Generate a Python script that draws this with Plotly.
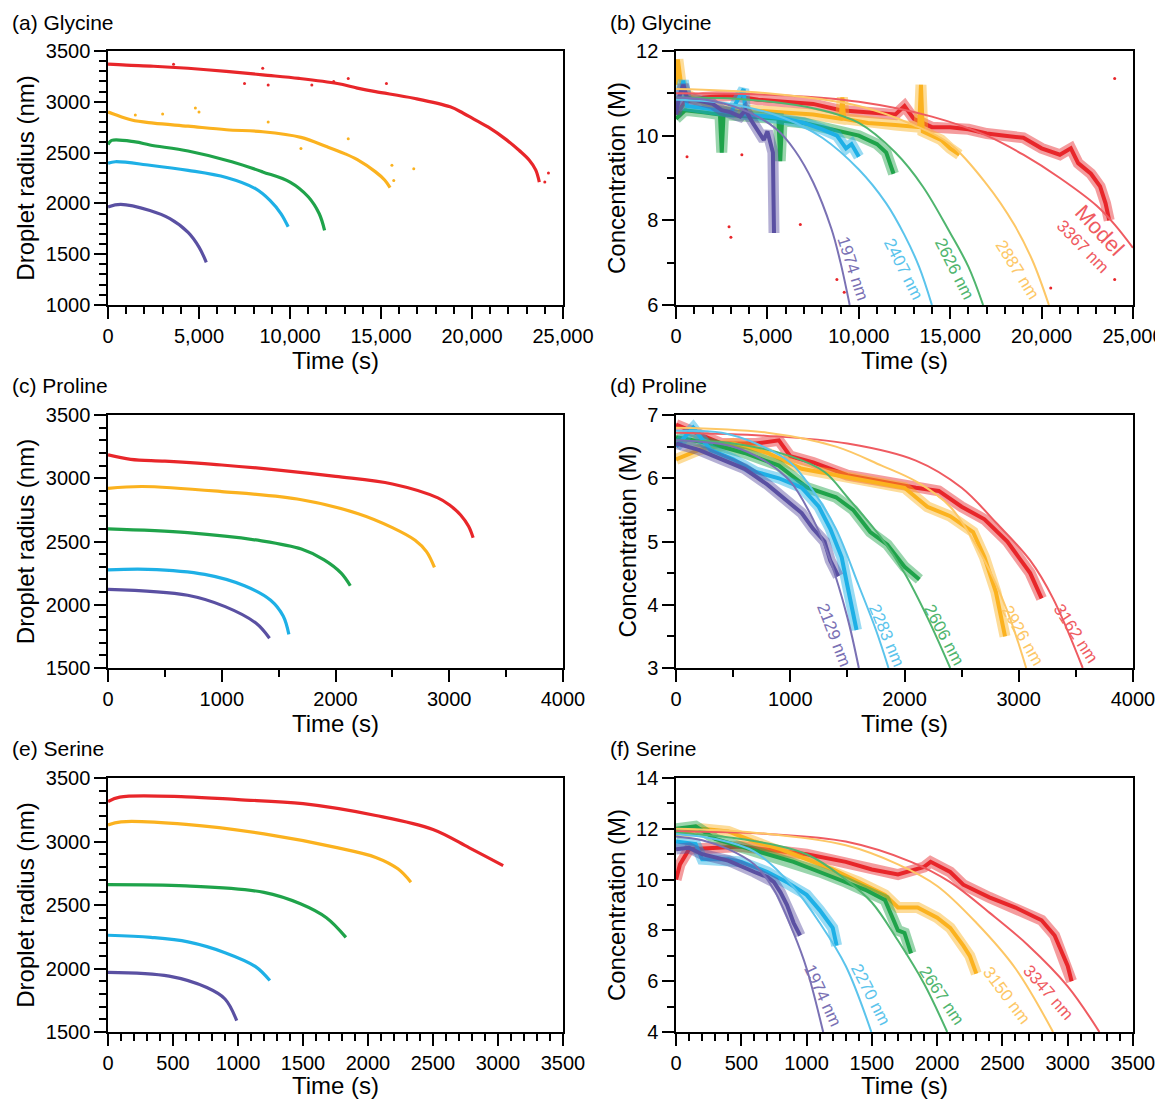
import plotly.graph_objects as go
from plotly.subplots import make_subplots

FONT = "Liberation Sans, Arial, sans-serif"

# data colours and the lighter model-line colours
RED, ORANGE, GREEN, CYAN, PURPLE = "#e8262a", "#fbb21f", "#1fa34a", "#1eb0e6", "#5a50a2"
RED_M, ORANGE_M, GREEN_M, CYAN_M, PURPLE_M = "#ef5b61", "#fdc766", "#4fb56e", "#5bc4ec", "#7a71b4"

# ---------------- (a) Glycine: droplet radius (nm) vs time (s)
gly_rad_red = [(0, 3370), (1000, 3360), (2500, 3350), (4400, 3330), (6500, 3300), (8500, 3265),
               (10500, 3230), (12600, 3180), (13700, 3135), (14700, 3100), (16800, 3035),
               (18800, 2950), (19500, 2890), (20100, 2830), (20900, 2750), (21900, 2625),
               (22600, 2520), (23150, 2425), (23500, 2330), (23700, 2210)]
gly_rad_orange = [(0, 2900), (300, 2880), (1300, 2820), (2500, 2790), (4400, 2760), (6500, 2725),
                  (8500, 2705), (10600, 2650), (12000, 2560), (13000, 2490), (13700, 2430),
                  (14700, 2310), (15200, 2230), (15500, 2155)]
gly_rad_green = [(0, 2580), (200, 2620), (1500, 2605), (2300, 2575), (4400, 2515), (6800, 2410),
                 (8500, 2310), (10000, 2210), (11000, 2065), (11600, 1900), (11900, 1735)]
gly_rad_cyan = [(0, 2395), (400, 2410), (2300, 2375), (4400, 2325), (6500, 2255), (8100, 2145),
                (8900, 2030), (9500, 1900), (9900, 1770)]
gly_rad_purple = [(0, 1965), (700, 1990), (2300, 1930), (3400, 1850), (4400, 1715), (5000, 1570),
                  (5400, 1420)]
gly_rad_red_stray = [(7500, 3180), (8800, 3165), (11200, 3165), (15300, 3180), (13200, 3230),
                     (8500, 3330), (24200, 2300), (24000, 2210), (3600, 3370), (12400, 3200)]
gly_rad_orange_stray = [(4800, 2940), (5000, 2900), (8800, 2800), (13200, 2635), (15600, 2375),
                        (16800, 2340), (15700, 2225), (10600, 2540), (3000, 2880), (1500, 2870)]

# ---------------- (b) Glycine: concentration (M) vs time (s)
gly_con_red = [(0, 10.5), (500, 10.8), (1500, 10.9), (3000, 10.95), (4500, 10.85), (6000, 10.8),
               (7500, 10.75), (9000, 10.6), (10500, 10.55), (12000, 10.5), (12500, 10.7),
               (13000, 10.4), (14000, 10.2), (15000, 10.2), (16000, 10.15), (17000, 10.05),
               (18000, 10.0), (19000, 9.95), (20000, 9.7), (21000, 9.55), (21600, 9.7),
               (22000, 9.35), (22700, 9.1), (23200, 8.8), (23500, 8.4), (23700, 8.0)]
gly_con_orange = [(0, 11.2), (100, 11.8), (250, 11.3), (500, 11.0), (1500, 10.75), (2500, 10.65),
                  (4000, 10.6), (6000, 10.55), (7500, 10.5), (9000, 10.4), (9100, 10.9),
                  (9200, 10.4), (10500, 10.3), (12000, 10.25), (13300, 10.2), (13400, 11.2),
                  (13500, 10.1), (14500, 9.9), (15000, 9.7), (15500, 9.55)]
gly_con_green = [(0, 10.4), (500, 10.6), (1500, 10.55), (2400, 10.5), (2500, 9.6), (2600, 10.5),
                 (4000, 10.45), (5600, 10.4), (5700, 9.4), (5800, 10.35), (7000, 10.3),
                 (8500, 10.15), (10000, 10.0), (11000, 9.8), (11500, 9.6), (11900, 9.1)]
gly_con_cyan = [(0, 10.6), (200, 10.9), (400, 11.3), (600, 10.7), (1500, 10.65), (3000, 10.55),
                (3700, 11.1), (3800, 10.5), (5000, 10.45), (6000, 10.4), (7000, 10.3),
                (8000, 10.15), (8800, 10.0), (9300, 9.7), (9600, 9.8), (10000, 9.5)]
gly_con_purple = [(0, 10.5), (150, 10.9), (400, 11.2), (600, 10.9), (1000, 10.85), (1500, 10.8),
                  (2000, 10.75), (2500, 10.6), (3000, 10.55), (3500, 10.45), (3800, 10.6),
                  (4200, 10.3), (4500, 10.1), (4800, 9.9), (5000, 10.1), (5200, 9.8),
                  (5300, 9.6), (5330, 8.6), (5360, 7.7)]
gly_mod_red = [(0, 11.0), (6000, 10.95), (10000, 10.8), (14000, 10.45), (17000, 10.0),
               (19000, 9.55), (21000, 9.0), (23000, 8.35), (24000, 7.9), (25000, 7.35)]
gly_mod_orange = [(0, 11.1), (5000, 11.0), (10000, 10.7), (13000, 10.25), (15000, 9.8),
                  (17000, 8.85), (18500, 7.9), (19500, 7.05), (20400, 6.0)]
gly_mod_green = [(0, 10.9), (4000, 10.85), (8000, 10.6), (10000, 10.3), (12000, 9.6),
                 (13500, 8.8), (15000, 7.7), (16000, 6.9), (16800, 6.0)]
gly_mod_cyan = [(0, 10.85), (3000, 10.75), (6000, 10.4), (8000, 9.95), (10000, 9.2),
                (11500, 8.4), (12500, 7.65), (13300, 6.9), (14000, 6.0)]
gly_mod_purple = [(0, 10.9), (2000, 10.82), (4000, 10.55), (5500, 10.15), (6500, 9.65),
                  (7500, 8.9), (8500, 7.8), (9000, 7.0), (9500, 6.0)]
gly_con_stray = [(2900, 7.85), (3000, 7.6), (600, 9.5), (3600, 9.55), (8800, 6.6), (9200, 6.3),
                 (24000, 6.6), (20500, 6.4), (24000, 11.35), (6800, 7.9)]
gly_labels = [("1974 nm", 9650, 6.85, 72, PURPLE_M), ("2407 nm", 12400, 6.85, 63, CYAN_M),
              ("2626 nm", 15200, 6.85, 63, GREEN_M), ("2887 nm", 18650, 6.83, 58, ORANGE_M),
              ("3367 nm", 22250, 7.39, 46, RED_M)]

# ---------------- (c) Proline: droplet radius
pro_rad_red = [(0, 3185), (200, 3150), (500, 3135), (1000, 3105), (1500, 3065), (2000, 3015),
               (2500, 2955), (2900, 2845), (3000, 2790), (3100, 2710), (3170, 2620), (3210, 2530)]
pro_rad_orange = [(0, 2920), (300, 2935), (1000, 2895), (1700, 2830), (2200, 2720), (2500, 2610),
                  (2700, 2510), (2800, 2420), (2870, 2295)]
pro_rad_green = [(0, 2600), (700, 2570), (1350, 2505), (1700, 2440), (1900, 2355), (2050, 2250),
                 (2130, 2150)]
pro_rad_cyan = [(0, 2275), (350, 2280), (850, 2240), (1200, 2150), (1430, 2035), (1540, 1910),
                (1590, 1765)]
pro_rad_purple = [(0, 2122), (700, 2075), (1030, 1985), (1300, 1855), (1420, 1735)]

# ---------------- (d) Proline: concentration
pro_con_red = [(0, 6.85), (200, 6.7), (400, 6.55), (700, 6.55), (900, 6.6), (1000, 6.35),
               (1200, 6.25), (1500, 6.05), (1800, 5.95), (2100, 5.85), (2300, 5.8), (2500, 5.55),
               (2700, 5.35), (2900, 5.0), (3000, 4.75), (3100, 4.5), (3200, 4.1)]
pro_con_orange = [(0, 6.3), (200, 6.45), (500, 6.55), (800, 6.4), (1100, 6.15), (1400, 6.05),
                  (1700, 5.95), (2000, 5.85), (2200, 5.55), (2400, 5.4), (2600, 5.15),
                  (2700, 4.75), (2800, 4.2), (2880, 3.5)]
pro_con_green = [(0, 6.65), (300, 6.55), (600, 6.4), (900, 6.2), (1150, 5.85), (1400, 5.7),
                 (1550, 5.5), (1700, 5.15), (1850, 4.95), (2000, 4.6), (2130, 4.4)]
pro_con_cyan = [(0, 6.5), (150, 6.8), (300, 6.45), (500, 6.3), (700, 6.1), (900, 6.0),
                (1100, 5.85), (1250, 5.55), (1350, 5.2), (1450, 4.75), (1500, 4.3), (1580, 3.6)]
pro_con_purple = [(0, 6.55), (200, 6.45), (400, 6.3), (600, 6.15), (800, 5.9), (1000, 5.6),
                  (1100, 5.45), (1200, 5.2), (1300, 5.0), (1350, 4.7), (1420, 4.45)]
pro_mod_red = [(0, 6.72), (800, 6.67), (1500, 6.55), (2100, 6.28), (2500, 5.85), (2800, 5.3),
               (3100, 4.7), (3300, 4.1), (3560, 3.0)]
pro_mod_orange = [(0, 6.8), (800, 6.72), (1400, 6.5), (1800, 6.2), (2100, 5.95), (2400, 5.55),
                  (2700, 4.7), (2900, 3.9), (3065, 3.0)]
pro_mod_green = [(0, 6.6), (500, 6.55), (1000, 6.35), (1300, 6.1), (1500, 5.7), (1800, 5.05),
                 (2000, 4.5), (2200, 3.8), (2400, 3.0)]
pro_mod_cyan = [(0, 6.75), (400, 6.72), (700, 6.55), (1000, 6.25), (1200, 5.8), (1400, 5.2),
                (1600, 4.3), (1750, 3.6), (1860, 3.0)]
pro_mod_purple = [(0, 6.6), (500, 6.5), (800, 6.25), (1000, 5.95), (1200, 5.35), (1350, 4.7),
                  (1500, 3.8), (1600, 3.0)]
pro_labels = [("2129 nm", 1385, 3.52, 69, PURPLE_M), ("2283 nm", 1845, 3.52, 67, CYAN_M),
              ("2606 nm", 2350, 3.52, 62, GREEN_M), ("2926 nm", 3035, 3.52, 60, ORANGE_M),
              ("3162 nm", 3500, 3.55, 57, RED_M)]

# ---------------- (e) Serine: droplet radius
ser_rad_red = [(0, 3315), (90, 3350), (600, 3352), (1000, 3330), (1500, 3298), (2060, 3205),
               (2500, 3095), (2780, 2950), (3040, 2810)]
ser_rad_orange = [(0, 3130), (100, 3155), (600, 3135), (1200, 3060), (1770, 2950), (2060, 2875),
                  (2230, 2785), (2330, 2680)]
ser_rad_green = [(0, 2660), (600, 2650), (1200, 2600), (1480, 2510), (1680, 2400), (1830, 2245)]
ser_rad_cyan = [(0, 2262), (330, 2245), (615, 2210), (900, 2125), (1135, 2015), (1245, 1905)]
ser_rad_purple = [(0, 1970), (470, 1940), (760, 1850), (900, 1760), (990, 1590)]

# ---------------- (f) Serine: concentration
ser_con_red = [(0, 10.0), (30, 10.6), (100, 11.2), (500, 11.3), (1000, 11.0), (1300, 10.7),
               (1500, 10.4), (1700, 10.2), (1900, 10.5), (1950, 10.7), (2100, 10.3),
               (2200, 9.8), (2400, 9.3), (2600, 8.9), (2800, 8.4), (2900, 7.8), (2950, 7.2),
               (3000, 6.6), (3030, 6.0)]
ser_con_orange = [(0, 11.8), (200, 12.0), (400, 11.9), (600, 11.5), (800, 11.2), (1000, 10.8),
                  (1200, 10.4), (1400, 9.9), (1600, 9.4), (1700, 8.9), (1850, 8.9), (2000, 8.5),
                  (2100, 8.1), (2200, 7.4), (2250, 7.0), (2300, 6.3)]
ser_con_green = [(0, 12.0), (150, 12.1), (300, 11.6), (500, 11.3), (700, 11.0), (900, 10.7),
                 (1100, 10.3), (1300, 9.9), (1450, 9.6), (1600, 9.2), (1650, 8.6), (1700, 8.0),
                 (1750, 7.9), (1800, 7.1)]
ser_con_cyan = [(0, 11.5), (150, 11.4), (200, 10.8), (400, 10.8), (500, 10.7), (700, 10.3),
                (850, 9.9), (1000, 9.4), (1100, 8.8), (1200, 8.1), (1230, 7.4)]
ser_con_purple = [(0, 11.2), (100, 11.25), (200, 11.0), (400, 10.75), (600, 10.3), (700, 10.1),
                  (750, 9.9), (800, 9.5), (850, 9.0), (900, 8.3), (950, 7.8)]
ser_mod_red = [(0, 11.9), (700, 11.8), (1300, 11.5), (1800, 10.7), (2100, 9.9), (2400, 8.7),
               (2700, 7.4), (3000, 5.8), (3243, 4.0)]
ser_mod_orange = [(0, 12.0), (600, 11.85), (1300, 11.35), (1700, 10.6), (2000, 9.75),
                  (2300, 8.3), (2600, 6.5), (2888, 4.0)]
ser_mod_green = [(0, 11.85), (500, 11.6), (1000, 11.0), (1300, 10.0), (1500, 9.1), (1700, 7.6),
                 (1900, 5.9), (2077, 4.0)]
ser_mod_cyan = [(0, 11.8), (300, 11.6), (600, 11.1), (900, 9.7), (1100, 8.3), (1300, 6.6),
                (1496, 4.0)]
ser_mod_purple = [(0, 11.7), (200, 11.55), (400, 11.2), (600, 10.6), (750, 9.6), (900, 7.9),
                  (1000, 6.5), (1127, 4.0)]
ser_labels = [("1974 nm", 1120, 5.42, 65, PURPLE_M), ("2270 nm", 1490, 5.49, 63, CYAN_M),
              ("2667 nm", 2030, 5.42, 56, GREEN_M), ("3150 nm", 2530, 5.42, 53, ORANGE_M),
              ("3347 nm", 2850, 5.55, 49, RED_M)]


def add_curve(fig, pts, color, row, col, width, shape="spline", opacity=1.0):
    fig.add_trace(go.Scatter(x=[p[0] for p in pts], y=[p[1] for p in pts], mode="lines",
                             line=dict(color=color, width=width, shape=shape), opacity=opacity,
                             showlegend=False),
                  row=row, col=col)


def add_dots(fig, pts, color, row, col):
    fig.add_trace(go.Scatter(x=[p[0] for p in pts], y=[p[1] for p in pts], mode="markers",
                             marker=dict(color=color, size=3), showlegend=False),
                  row=row, col=col)


fig = make_subplots(rows=3, cols=2)

# radius panels
for row, series in [(1, [gly_rad_red, gly_rad_orange, gly_rad_green, gly_rad_cyan, gly_rad_purple]),
                    (2, [pro_rad_red, pro_rad_orange, pro_rad_green, pro_rad_cyan, pro_rad_purple]),
                    (3, [ser_rad_red, ser_rad_orange, ser_rad_green, ser_rad_cyan, ser_rad_purple])]:
    for pts, c in zip(series, [RED, ORANGE, GREEN, CYAN, PURPLE]):
        add_curve(fig, pts, c, row, 1, 3.2)
add_dots(fig, gly_rad_red_stray, RED, 1, 1)
add_dots(fig, gly_rad_orange_stray, ORANGE, 1, 1)

# concentration panels: noisy data (soft band + core), then models on top
conc = [(1, [gly_con_red, gly_con_orange, gly_con_green, gly_con_cyan, gly_con_purple],
         [gly_mod_red, gly_mod_orange, gly_mod_green, gly_mod_cyan, gly_mod_purple]),
        (2, [pro_con_red, pro_con_orange, pro_con_green, pro_con_cyan, pro_con_purple],
         [pro_mod_red, pro_mod_orange, pro_mod_green, pro_mod_cyan, pro_mod_purple]),
        (3, [ser_con_red, ser_con_orange, ser_con_green, ser_con_cyan, ser_con_purple],
         [ser_mod_red, ser_mod_orange, ser_mod_green, ser_mod_cyan, ser_mod_purple])]
for row, data, models in conc:
    for pts, c in zip(data, [RED, ORANGE, GREEN, CYAN, PURPLE]):
        add_curve(fig, pts, c, row, 2, 11, shape="linear", opacity=0.45)
        add_curve(fig, pts, c, row, 2, 4, shape="linear")
    for pts, c in zip(models, [RED_M, ORANGE_M, GREEN_M, CYAN_M, PURPLE_M]):
        add_curve(fig, pts, c, row, 2, 2, shape="spline")
add_dots(fig, gly_con_stray, RED, 1, 2)

# rotated size labels next to the model curves
for ax, labels in [("2", gly_labels), ("4", pro_labels), ("6", ser_labels)]:
    for text, x, y, ang, c in labels:
        fig.add_annotation(x=x, y=y, xref="x" + ax, yref="y" + ax, text=text, textangle=ang,
                           showarrow=False, font=dict(family=FONT, size=17, color=c))
fig.add_annotation(x=23200, y=7.77, xref="x2", yref="y2", text="Model", textangle=47,
                   showarrow=False, font=dict(family=FONT, size=22, color=RED_M))

# panel titles
for text, x, y in [("(a) Glycine", 0.002, 0.987), ("(b) Glycine", 0.5195, 0.987),
                   ("(c) Proline", 0.002, 0.654), ("(d) Proline", 0.5195, 0.654),
                   ("(e) Serine", 0.002, 0.321), ("(f) Serine", 0.5195, 0.321)]:
    fig.add_annotation(x=x, y=y, xref="paper", yref="paper", text=text, showarrow=False,
                       xanchor="left", yanchor="middle", font=dict(family=FONT, size=21, color="black"))

axis_style = dict(showline=True, linecolor="black", linewidth=1.5, mirror=True, showgrid=False,
                  zeroline=False, ticks="outside", ticklen=12, tickwidth=1.5, tickcolor="black",
                  tickfont=dict(family=FONT, size=20, color="black"), automargin=False,
                  ticklabeloverflow="allow",
                  title_font=dict(family=FONT, size=24, color="black"))

# the page body has an 8 px margin, so the figure is 8 px smaller and shifted
col_dom = [[0.0866, 0.4805], [0.5784, 0.9740]]
row_dom = [[0.7278, 0.9606], [0.3951, 0.6269], [0.0614, 0.2942]]

# (range, dtick, minor dtick, tickformat) per axis
x_specs = [([0, 25000], 5000, 1000, ","), ([0, 25000], 5000, 1000, ","),
           ([0, 4000], 1000, 500, "d"), ([0, 4000], 1000, 500, "d"),
           ([0, 3500], 500, 100, "d"), ([0, 3500], 500, 100, "d")]
y_specs = [([1000, 3500], 500, 100), ([6, 12], 2, 1),
           ([1500, 3500], 500, 100), ([3, 7], 1, 0.5),
           ([1500, 3500], 500, 100), ([4, 14], 2, 1)]

for i in range(6):
    r, c = i // 2, i % 2
    xr, xd, xm, xf = x_specs[i]
    yr, yd, ym = y_specs[i]
    fig.update_xaxes(axis_style, range=xr, dtick=xd, tick0=0, tickformat=xf, domain=col_dom[c],
                     minor=dict(dtick=xm, ticks="outside", ticklen=7, tickwidth=1.5, tickcolor="black"),
                     title_text="Time (s)", title_standoff=4, row=r + 1, col=c + 1)
    fig.update_yaxes(axis_style, range=yr, dtick=yd, tick0=0, domain=row_dom[r],
                     minor=dict(dtick=ym, ticks="outside", ticklen=7, tickwidth=1.5, tickcolor="black"),
                     title_text="Droplet radius (nm)" if c == 0 else "Concentration (M)",
                     title_standoff=4, row=r + 1, col=c + 1)

fig.update_layout(width=1155, height=1091, margin=dict(l=0, r=0, t=0, b=0),
                  plot_bgcolor="white", paper_bgcolor="white", font=dict(family=FONT),
                  showlegend=False)

fig.write_html("out.html")
